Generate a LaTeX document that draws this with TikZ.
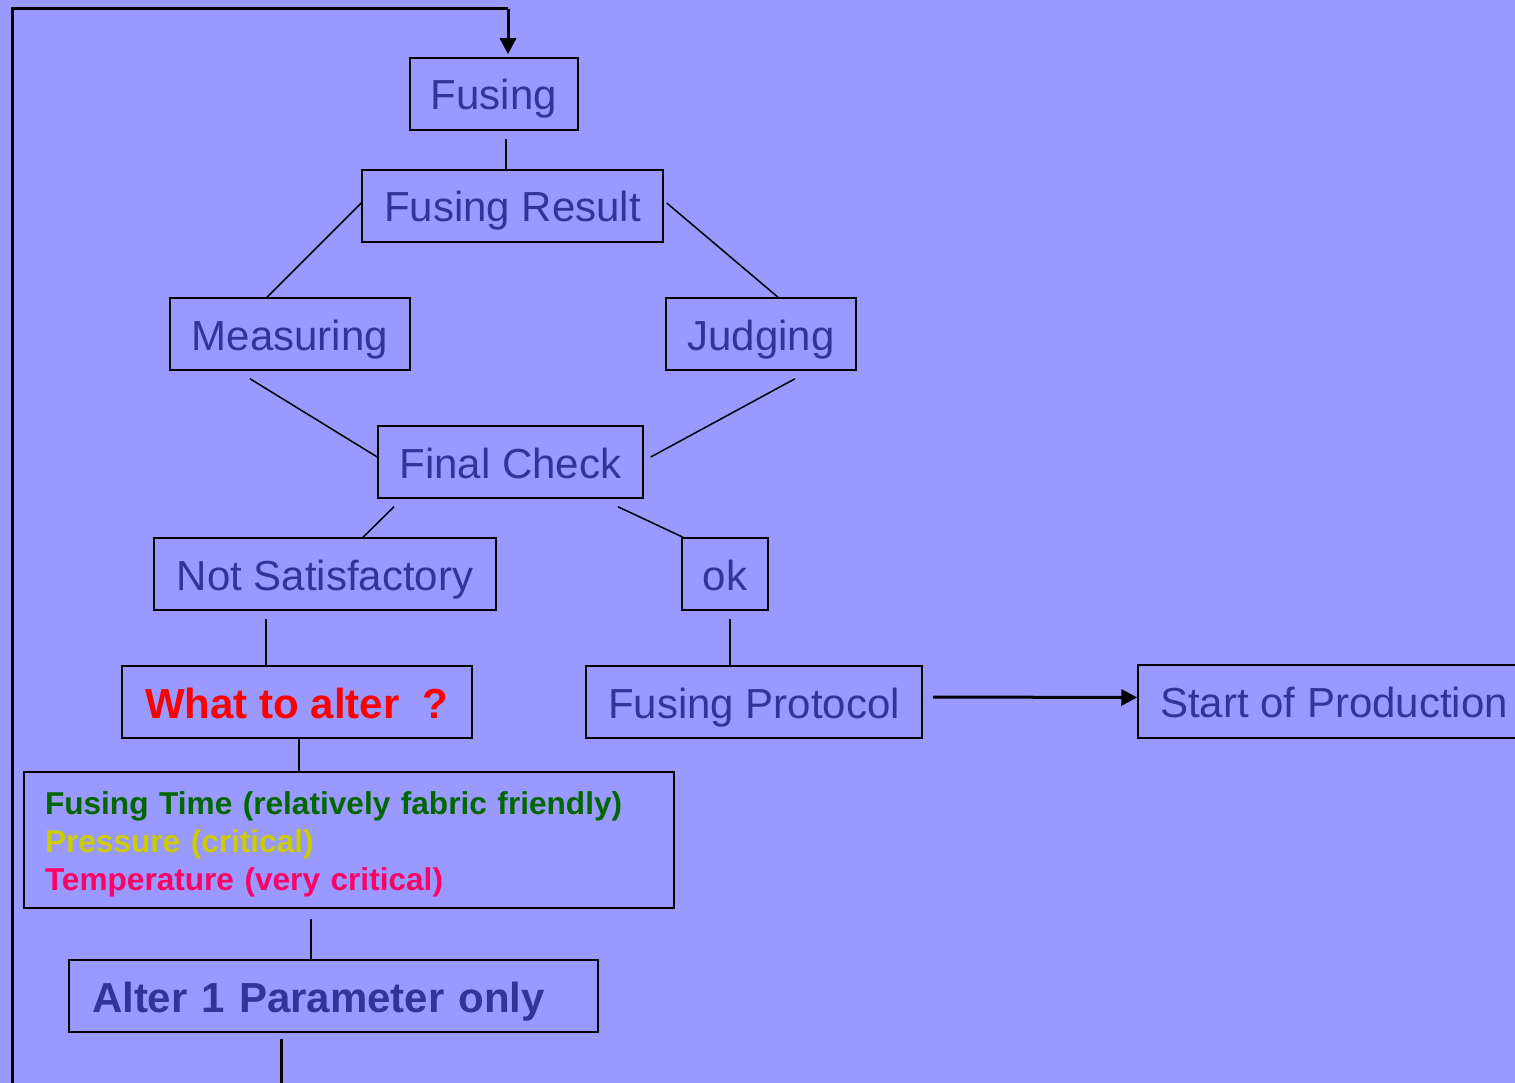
\documentclass[tikz,border=0pt]{standalone}
\usepackage{fontspec}
\setmainfont{Liberation Sans}
\usetikzlibrary{arrows.meta,calc}
\definecolor{bg}{HTML}{9999FF}
\definecolor{txt}{HTML}{333399}
\definecolor{pgreen}{HTML}{006600}
\definecolor{pyellow}{HTML}{CCCC00}
\definecolor{ppink}{HTML}{FF0066}
\begin{document}
\begin{tikzpicture}[x=1pt,y=-1pt,
  box/.style={draw=black,line width=1.5pt,inner sep=0pt,text=txt,minimum height=72,
    text height=40pt,text depth=8pt,font=\fontsize{42}{48}\selectfont},
  link/.style={line width=1.5pt},
  bigarrow/.style={line width=3pt,-{Triangle[length=16pt,width=16pt]}},
  loopline/.style={line width=3pt}]
\useasboundingbox (0,0) rectangle (1515,1083);
\fill[bg] (0,0) rectangle (1515,1083);

\node[box,minimum width=168] (fus) at (494,94) {Fusing};
\node[box,minimum width=301] (res) at (512.5,206) {Fusing Result};
\node[box,minimum width=240] (meas) at (290,334) {Measuring};
\node[box,minimum width=190] (judg) at (761,334) {Judging};
\node[box,minimum width=265] (fc) at (510.5,462) {Final Check};
\node[box,minimum width=342] (ns) at (325,574) {Not Satisfactory};
\node[box,minimum width=86] (ok) at (725,574) {ok};
\node[box,minimum width=350,text=red,font=\bfseries\fontsize{42}{48}\selectfont] (wta) at (297,702) {What to alter\ \ ?};
\node[box,minimum width=336] (fp) at (754,702) {Fusing Protocol};
\node[box,minimum width=392,minimum height=73] (sop) at (1334,701.5) {Start of Production};
\node[draw=black,line width=1.5pt,inner ysep=0pt,minimum height=136,text width=608,inner xsep=21,align=left,
      font=\bfseries\fontsize{31.6}{38}\selectfont] (par) at (349,840)
  {\rule{0pt}{31pt}\textcolor{pgreen}{Fusing Time (relatively fabric friendly)}\\
   \textcolor{pyellow}{Pressure (critical)}\\
   \textcolor{ppink}{Temperature (very critical)}};
\node[box,text width=483,inner xsep=23,align=left,
      font=\bfseries\fontsize{42}{48}\selectfont] (alt) at (333.5,996) {Alter 1 Parameter only};

\draw[link] ([xshift=12,yshift=-8]fus.south) -- ([xshift=-6.5]res.north);
\draw[link] ([yshift=3]res.west) -- ([xshift=-23]meas.north);
\draw[link] ([xshift=3,yshift=3]res.east) -- ([xshift=17]judg.north);
\draw[link] ([xshift=-40,yshift=-8]meas.south) -- ([yshift=5]fc.west);
\draw[link] ([xshift=34,yshift=-8]judg.south) -- ([xshift=7,yshift=5]fc.east);
\draw[link] ([xshift=-116.5,yshift=-8]fc.south) -- ([xshift=38]ns.north);
\draw[link] ([xshift=107.5,yshift=-8]fc.south) -- ([xshift=-42]ok.north);
\draw[link] ([xshift=-59,yshift=-8]ns.south) -- ([xshift=-31]wta.north);
\draw[link] ([xshift=5,yshift=-8]ok.south) -- ([xshift=-24]fp.north);
\draw[link] ([xshift=2]wta.south) -- ([xshift=-50]par.north);
\draw[link] ([xshift=-38,yshift=-10]par.south) -- ([xshift=-22.5]alt.north);
\draw[bigarrow] ([xshift=10,yshift=5]fp.east) -- ([yshift=4]sop.west);

\coordinate (lb) at (281,1110);
\coordinate (lc) at (12,1110);
\coordinate (ld) at (12,9);
\coordinate (le) at (508,9);
\draw[loopline] ([xshift=-52.5,yshift=-6]alt.south) -- (lb) -- (lc) -- (ld) -- (le);
\draw[bigarrow] (le) -- ([xshift=14,yshift=3]fus.north);
\end{tikzpicture}
\end{document}
